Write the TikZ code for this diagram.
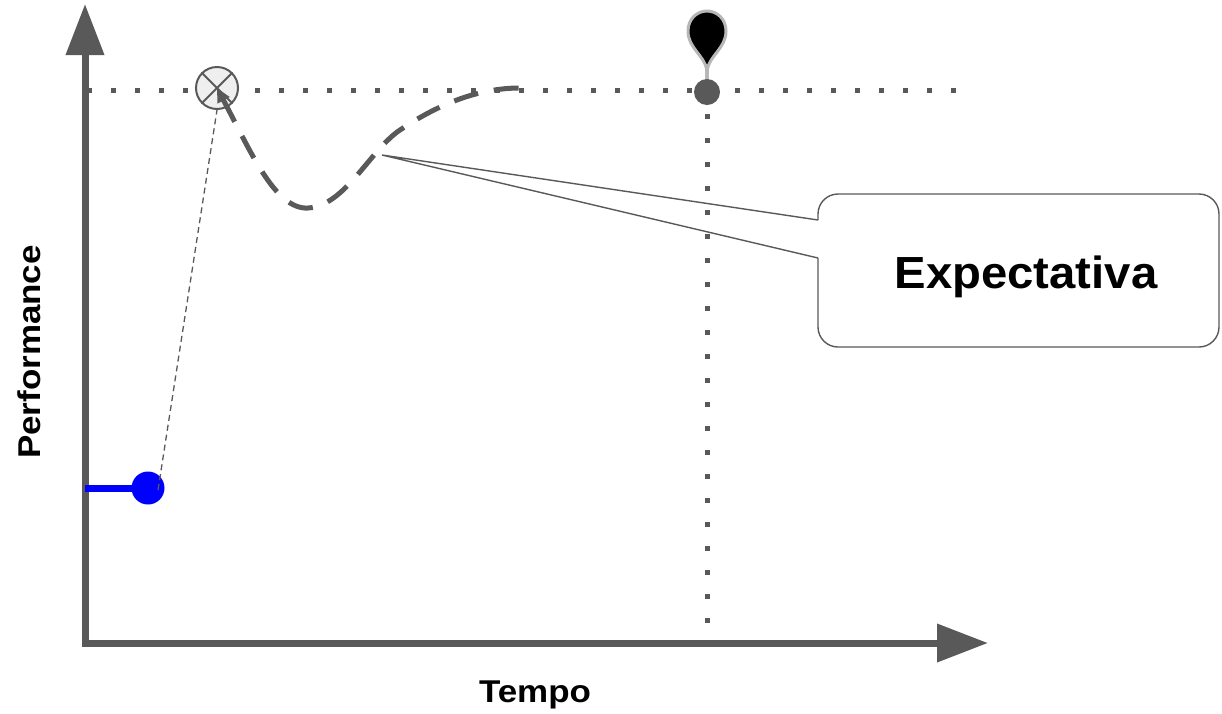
\documentclass[tikz,border=0pt]{standalone}
\usepackage{fontspec}
\usepackage{graphicx}
\setmainfont{Liberation Sans}
\usetikzlibrary{arrows.meta}
\definecolor{dg}{HTML}{595959}
\definecolor{pinline}{HTML}{B7B7B7}
\definecolor{xfill}{HTML}{EFEFEF}
\definecolor{pureblue}{HTML}{0000FF}
\begin{document}
\begin{tikzpicture}[x=1pt,y=-1pt,
  axisline/.style={draw=dg, line width=7pt, line join=miter,
     {Triangle[length=51pt,width=37pt]}-{Triangle[length=51pt,width=37pt]}},
  dotline/.style={draw=dg, line width=5pt, dash pattern=on 5pt off 19pt},
  thickdash/.style={draw=dg, line width=5pt, dash pattern=on 25pt off 16pt,
     {Triangle[length=14pt,width=13pt]}-},
  thindash/.style={draw=dg, line width=1.3pt, dash pattern=on 6pt off 4pt},
  callout/.style={draw=dg, line width=1.4pt},
  lbl/.style={font=\bfseries\fontsize{31.5}{36}\selectfont, inner sep=0pt, anchor=base},
]
\useasboundingbox (0,0) rectangle (1222,713);
% coordinates
\coordinate (ytop) at (85,4);
\coordinate (orig) at (85,643);
\coordinate (xend) at (988,643);
\coordinate (hl) at (87,90);
\coordinate (hr) at (956,90);
\coordinate (vt) at (707,114);
\coordinate (vb) at (707,650);
\coordinate (tip) at (382,155);
\coordinate (ca) at (818,220);
\coordinate (cb) at (818,258);
% dotted guides
\draw[dotline] (hl) -- (hr);
\draw[dotline] (vt) -- (vb);
% axes
\draw[axisline] (ytop) -- (orig) -- (xend);
% labels
\node[lbl] (tempo) at (535,702) {\scalebox{1.11}[1]{Tempo}};
\node[lbl, rotate=90] (perf) at (40,352) {\scalebox{1.11}[1]{Performance}};
% blue start
\node[circle, fill=pureblue, minimum size=33pt, inner sep=0pt] (bd) at (148,488) {};
\draw[draw=pureblue, line width=7pt] (85,488) -- (bd.center);
% crossed circle
\node[circle, draw=dg, line width=2pt, fill=xfill, minimum size=42pt, inner sep=0pt] (xc) at (217,88) {};
\draw[dg, line width=2pt] (xc.north west) -- (xc.south east);
\draw[dg, line width=2pt] (xc.north east) -- (xc.south west);
% thin dashed connector
\draw[thindash] ([xshift=10pt,yshift=-2pt]bd.center) -- (xc.south);
% expectation curve
\draw[thickdash] (xc.center) .. controls (250,150) and (275,210) .. (308,208)
   .. controls (345,206) and (370,150) .. (400,130)
   .. controls (440,103) and (480,88) .. (520,88);
% pin marker
\draw[pinline, line width=4pt] (707,60) -- (707,86);
\draw[pinline, line width=3pt, fill=black]
  (707,70) .. controls (704,55) and (688,48) .. (688,31)
  .. controls (688,19) and (697,11) .. (707,11)
  .. controls (717,11) and (726,19) .. (726,31)
  .. controls (726,48) and (710,55) .. (707,70) -- cycle;
\node[circle, fill=dg, minimum size=26pt, inner sep=0pt] (pinc) at (707,92) {};
% callout
\draw[callout, rounded corners=20pt] (ca) -- (818,194) -- (1219,194) -- (1219,347) -- (818,347) -- (cb);
\draw[callout, line join=miter] (ca) -- (tip) -- (cb);
\node[lbl, font=\bfseries\fontsize{45}{52}\selectfont] (expect) at (1026,288) {\scalebox{1.05}[1]{Expectativa}};
\end{tikzpicture}
\end{document}
